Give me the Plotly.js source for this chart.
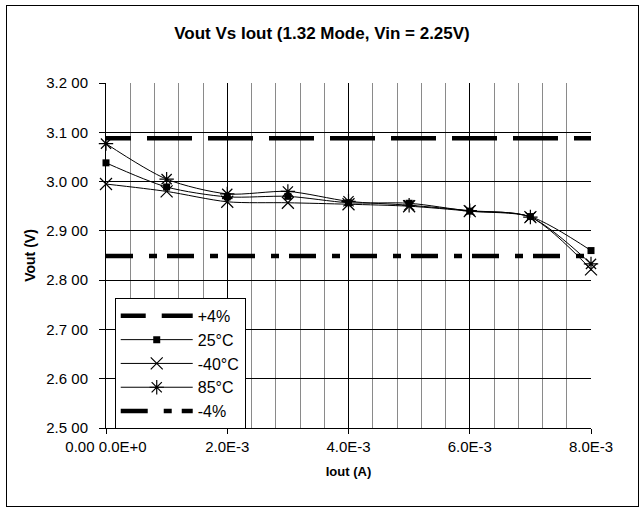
<!DOCTYPE html>
<html>
<head>
<meta charset="utf-8">
<script src="https://cdn.plot.ly/plotly-3.0.1.min.js"></script>
<style>
  html, body { margin: 0; padding: 0; background: #fff; }
  #wrap { position: relative; width: 644px; height: 510px; }
  #chart { width: 644px; height: 510px; }
  #frame { position: absolute; left: 6px; top: 5px; width: 631px; height: 500px; border: 1px solid #000; pointer-events: none; }
</style>
</head>
<body>
<div id="wrap"><div id="chart"></div><div id="frame"></div></div>
<script>
// Data
const iout = [0, 0.001, 0.002, 0.003, 0.004, 0.005, 0.006, 0.007, 0.008];
const v25 = [3.038, 2.989, 2.969, 2.970, 2.957, 2.956, 2.940, 2.929, 2.860];
const vm40 = [2.995, 2.980, 2.959, 2.957, 2.954, 2.950, 2.940, 2.928, 2.822];
const v85 = [3.077, 3.005, 2.975, 2.980, 2.960, 2.952, 2.941, 2.928, 2.833];
const limitX = [0, 0.008];
const plus4 = [3.088, 3.088];
const minus4 = [2.849, 2.849];
const seriesNames = ['+4%', '25°C', '-40°C', '85°C', '-4%'];
const yTickVals = [2.5, 2.6, 2.7, 2.8, 2.9, 3.0, 3.1, 3.2];
const yTickText = ['2.5 00', '2.6 00', '2.7 00', '2.8 00', '2.9 00', '3.0 00', '3.1 00', '3.2 00'];
const xTickVals = [0, 0.002, 0.004, 0.006, 0.008];
const xTickText = ['0.00 0.0E+0', '2.0E-3', '4.0E-3', '6.0E-3', '8.0E-3'];

const FONT = 'Liberation Sans, Arial, sans-serif';
const lineStyle = {color: '#000', width: 1, shape: 'spline', smoothing: 0.8};

function repeatDash(first, unit, n) {
  const parts = [first];
  for (let i = 0; i < n; i++) parts.push(unit);
  return parts.join(',');
}
const dashPlus = repeatDash('25px,16px', '45px,16px', 10);
const dashMinus = '27px,16px,8px,10px';

const traces = [
  {x: limitX, y: plus4, name: seriesNames[0], mode: 'lines',
   line: {color: '#000', width: 4.5, dash: dashPlus}},
  {x: iout, y: v25, name: seriesNames[1], mode: 'lines+markers', cliponaxis: false,
   line: lineStyle, marker: {symbol: 'square', size: 7, color: '#000'}},
  {x: iout, y: vm40, name: seriesNames[2], mode: 'lines+markers', cliponaxis: false,
   line: lineStyle, marker: {symbol: 'x-thin-open', size: 12, color: '#000', line: {color: '#000', width: 1.2}}},
  {x: iout, y: v85, name: seriesNames[3], mode: 'lines+markers', cliponaxis: false,
   line: lineStyle, marker: {symbol: 'asterisk-open', size: 12, color: '#000', line: {color: '#000', width: 1.2}}},
  {x: limitX, y: minus4, name: seriesNames[4], mode: 'lines',
   line: {color: '#000', width: 4.5, dash: dashMinus}}
];

const layout = {
  width: 644, height: 510,
  margin: {l: 106, r: 53, t: 83, b: 82},
  paper_bgcolor: '#fff', plot_bgcolor: '#fff',
  font: {family: FONT, size: 15, color: '#000'},
  title: {text: 'Vout Vs Iout (1.32 Mode, Vin = 2.25V)', font: {family: FONT, size: 17, color: '#000', weight: 'bold'},
          x: 0.5, xref: 'container', xanchor: 'center', y: 0.935, yref: 'container', yanchor: 'middle'},
  showlegend: true,
  legend: {x: 0.018, y: 0.377, xanchor: 'left', yanchor: 'top', bgcolor: '#fff', bordercolor: '#000', borderwidth: 1,
           font: {family: FONT, size: 16, color: '#000'}, itemwidth: 72, tracegroupgap: 0, traceorder: 'normal'},
  xaxis: {
    range: [0, 0.008], tickmode: 'array', tickvals: xTickVals, ticktext: xTickText,
    showline: true, linecolor: '#000', linewidth: 1, ticks: 'outside', ticklen: 5, tickcolor: '#000',
    showgrid: true, gridcolor: '#000', gridwidth: 1, zeroline: false,
    minor: {tickmode: 'linear', dtick: 0.0004, tick0: 0, showgrid: true, gridcolor: '#8a8a8a', gridwidth: 1, ticks: ''},
    tickfont: {family: FONT, size: 15, color: '#000'},
    title: {text: 'Iout (A)', font: {family: FONT, size: 13, color: '#000', weight: 'bold'}, standoff: 12}
  },
  yaxis: {
    range: [2.5, 3.2], tickmode: 'array', tickvals: yTickVals, ticktext: yTickText,
    showline: true, linecolor: '#000', linewidth: 1, ticks: 'outside', ticklen: 6, tickcolor: '#000',
    showgrid: true, gridcolor: '#000', gridwidth: 1, zeroline: false, ticklabelstandoff: 8,
    tickfont: {family: FONT, size: 15, color: '#000'},
    title: {text: 'Vout (V)', font: {family: FONT, size: 14, color: '#000', weight: 'bold'}, standoff: 7}
  }
};

Plotly.newPlot('chart', traces, layout, {staticPlot: true, displayModeBar: false});
</script>
</body>
</html>
